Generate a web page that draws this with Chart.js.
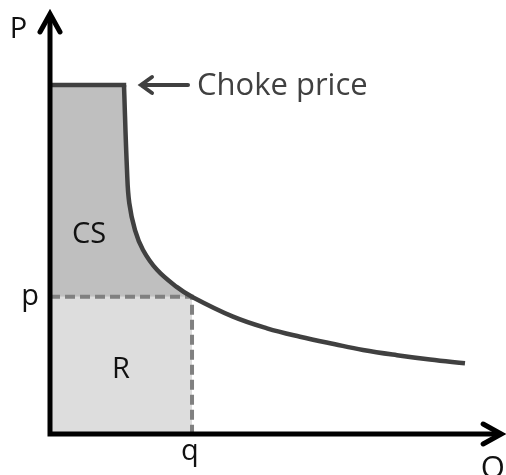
<!DOCTYPE html>
<html>
<head>
<meta charset="utf-8">
<script src="https://cdn.jsdelivr.net/npm/chart.js@4"></script>
<style>
  body { margin: 0; background: #fff; }
  #wrap { width: 506px; height: 475px; }
</style>
</head>
<body>
<div id="wrap"><canvas id="chart" width="506" height="475"></canvas></div>
<script>
// courbe de demande (Q, P), à partir du coin du prix limite
const demandQ = [1.644, 1.711, 1.762, 1.889, 2.067, 2.378, 2.822, 3.156, 4.067, 4.822, 5.556, 6.333, 6.956, 7.711, 8.444, 9.222];
const demandP = [8.27, 6.26, 5.47, 4.83, 4.36, 3.89, 3.48, 3.25, 2.78, 2.505, 2.306, 2.126, 1.991, 1.867, 1.765, 1.675];

// prix et quantité d'équilibre
const priceP = 3.25;
const quantityQ = 3.156;
const chokeP = 8.27;

// étiquettes
const labelTexts = ['P', 'p', 'q', 'Q', 'CS', 'R', 'Choke price'];
const labelQ = [-0.70, -0.444, 3.11, 9.84, 0.867, 1.578, 3.267];
const labelP = [9.38, 3.06, -0.62, -1.04, 4.53, 1.33, 8.03];

const demandPoints = demandQ.map((q, i) => ({ x: q, y: demandP[i] }));
const csPoints = [{ x: 0, y: chokeP }].concat(demandPoints.filter(pt => pt.x <= quantityQ));

// ======= Axes avec flèches + textes =======
const annotations = {
    id: 'annotations',
    afterDatasetsDraw(chart) {
        const ctx = chart.ctx;
        const xs = chart.scales.x;
        const ys = chart.scales.y;
        const x0 = xs.getPixelForValue(0);
        const y0 = ys.getPixelForValue(0);
        const yTop = ys.getPixelForValue(10);
        const xEnd = xs.getPixelForValue(10.07);

        ctx.save();
        ctx.lineCap = 'butt';
        ctx.strokeStyle = '#000';
        ctx.lineWidth = 5;
        ctx.beginPath();
        ctx.moveTo(x0, y0 + 2.5);
        ctx.lineTo(x0, yTop + 2);
        ctx.moveTo(x0 - 2.5, y0);
        ctx.lineTo(xEnd - 2, y0);
        ctx.stroke();

        ctx.lineCap = 'round';
        ctx.lineJoin = 'miter';
        ctx.beginPath();
        ctx.moveTo(x0 - 10, yTop + 20);
        ctx.lineTo(x0, yTop + 2);
        ctx.lineTo(x0 + 10, yTop + 20);
        ctx.moveTo(xEnd - 20, y0 - 10);
        ctx.lineTo(xEnd - 2, y0);
        ctx.lineTo(xEnd - 20, y0 + 10);
        ctx.stroke();

        // flèche "Choke price"
        const ay = ys.getPixelForValue(chokeP);
        const ax = xs.getPixelForValue(2.0);
        const bx = xs.getPixelForValue(3.067);
        ctx.strokeStyle = '#404040';
        ctx.lineWidth = 4;
        ctx.beginPath();
        ctx.moveTo(bx, ay);
        ctx.lineTo(ax + 1, ay);
        ctx.moveTo(ax + 12, ay - 8);
        ctx.lineTo(ax + 1, ay);
        ctx.lineTo(ax + 12, ay + 8);
        ctx.stroke();

        ctx.textBaseline = 'alphabetic';
        labelTexts.forEach((t, i) => {
            const last = t === 'Choke price';
            ctx.textAlign = last ? 'left' : 'center';
            ctx.fillStyle = last ? '#404040' : '#111';
            const size = last ? 31 : (t === 'Q' ? 31 : 29);
            ctx.font = size + 'px "Open Sans", sans-serif';
            ctx.fillText(t, xs.getPixelForValue(labelQ[i]), ys.getPixelForValue(labelP[i]));
        });
        ctx.restore();
    }
};

new Chart(document.getElementById('chart').getContext('2d'), {
    type: 'line',
    data: {
        datasets: [
            {
                label: 'Demande',
                data: demandPoints,
                borderColor: '#404040',
                borderWidth: 4.5,
                tension: 0.4,
                pointRadius: 0,
                fill: false,
                order: 0,
            },
            {
                label: 'Prix limite',
                data: [{ x: 0, y: chokeP }, { x: demandQ[0], y: chokeP }],
                borderColor: '#404040',
                borderWidth: 4.5,
                borderCapStyle: 'square',
                pointRadius: 0,
                fill: false,
                order: 0,
            },
            {
                label: 'pointillés',
                data: [{ x: 0, y: priceP }, { x: quantityQ, y: priceP }, { x: quantityQ, y: 0 }],
                borderColor: '#808080',
                borderWidth: 4,
                borderDash: [10, 5],
                pointRadius: 0,
                fill: false,
                order: 1,
            },
            {
                label: 'CS',
                data: csPoints,
                borderWidth: 0,
                borderColor: 'rgba(0,0,0,0)',
                backgroundColor: '#bfbfbf',
                pointRadius: 0,
                fill: { value: priceP },
                order: 2,
            },
            {
                label: 'R',
                data: [{ x: 0, y: priceP }, { x: quantityQ, y: priceP }],
                borderWidth: 0,
                borderColor: 'rgba(0,0,0,0)',
                backgroundColor: '#dddddd',
                pointRadius: 0,
                fill: 'origin',
                order: 3,
            },
        ],
    },
    options: {
        responsive: false,
        animation: false,
        layout: { padding: { left: 50, right: 6, top: 12, bottom: 41 } },
        plugins: { legend: { display: false }, tooltip: { enabled: false } },
        scales: {
            x: { type: 'linear', min: 0, max: 10, display: false },
            y: { type: 'linear', min: 0, max: 10, display: false },
        },
    },
    plugins: [annotations],
});
</script>
</body>
</html>
